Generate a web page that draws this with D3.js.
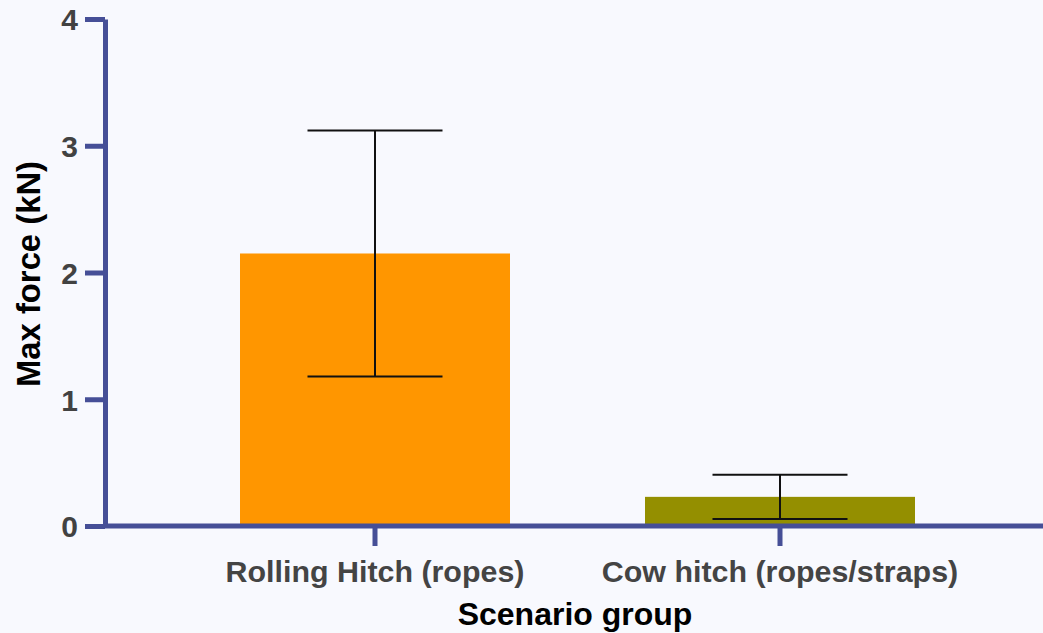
<!DOCTYPE html>
<html>
<head>
<meta charset="utf-8">
<script src="https://cdn.jsdelivr.net/npm/d3@7"></script>
<style>
  html, body { margin: 0; padding: 0; background: #f8f9fe; }
  svg { display: block; }
  text { font-family: "Liberation Sans", Arial, sans-serif; font-weight: bold; }
</style>
</head>
<body>
<svg id="chart" width="1043" height="633"></svg>
<script>
// Max force per scenario group, with error bar half-widths (kN)
const categories = ["Rolling Hitch (ropes)", "Cow hitch (ropes/straps)"];
const meanForce = [2.15, 0.23];
const errForce = [0.97, 0.175];
const barColors = ["#ff9600", "#948f00"];
const yTicks = [0, 1, 2, 3, 4];

const W = 1043, H = 633;
const axisColor = "#464f97";
const svg = d3.select("#chart");

const x = d3.scaleBand().domain(categories).range([105, 1050]).padding(1 / 3);
const y = d3.scaleLinear().domain([0, 4]).range([526, 19]);

const rows = categories.map((c, i) => ({ cat: c, v: meanForce[i], e: errForce[i], color: barColors[i] }));

// bars
svg.append("g").selectAll("rect").data(rows).join("rect")
  .attr("x", d => x(d.cat))
  .attr("width", x.bandwidth())
  .attr("y", d => y(d.v))
  .attr("height", d => y(0) - y(d.v))
  .attr("fill", d => d.color);

// error bars
const eb = svg.append("g").attr("stroke", "#111").attr("stroke-width", 2).attr("fill", "none");
rows.forEach(d => {
  const cx = x(d.cat) + x.bandwidth() / 2;
  const half = x.bandwidth() / 4;
  const lo = y(d.v - d.e), hi = y(d.v + d.e);
  eb.append("line").attr("x1", cx).attr("x2", cx).attr("y1", lo).attr("y2", hi);
  eb.append("line").attr("x1", cx - half).attr("x2", cx + half).attr("y1", hi).attr("y2", hi);
  eb.append("line").attr("x1", cx - half).attr("x2", cx + half).attr("y1", lo).attr("y2", lo);
});

// y axis
const yAxis = svg.append("g").attr("transform", "translate(105,0)")
  .call(d3.axisLeft(y).tickValues(yTicks).tickFormat(d3.format("d")).tickSize(20).tickPadding(7).tickSizeOuter(0));
yAxis.select(".domain").attr("stroke", axisColor).attr("stroke-width", 5);
yAxis.selectAll(".tick line").attr("stroke", axisColor).attr("stroke-width", 5);
yAxis.selectAll(".tick text").attr("fill", "#424242").style("font-size", "30px").attr("dy", "0.36em");

// x axis
const xAxis = svg.append("g").attr("transform", "translate(0,526)")
  .call(d3.axisBottom(x).tickSize(20).tickPadding(14).tickSizeOuter(0));
xAxis.select(".domain").attr("d", `M103,0H${W}`).attr("stroke", axisColor).attr("stroke-width", 5);
xAxis.selectAll(".tick line").attr("stroke", axisColor).attr("stroke-width", 5);
xAxis.selectAll(".tick text").attr("fill", "#444").style("font-size", "30.4px");

// axis titles
svg.append("text")
  .attr("x", 575).attr("y", 625)
  .attr("text-anchor", "middle").attr("fill", "#000").style("font-size", "32px")
  .text("Scenario group");

svg.append("text")
  .attr("transform", "translate(40,274) rotate(-90)")
  .attr("text-anchor", "middle").attr("fill", "#000").style("font-size", "32.8px")
  .text("Max force (kN)");
</script>
</body>
</html>
